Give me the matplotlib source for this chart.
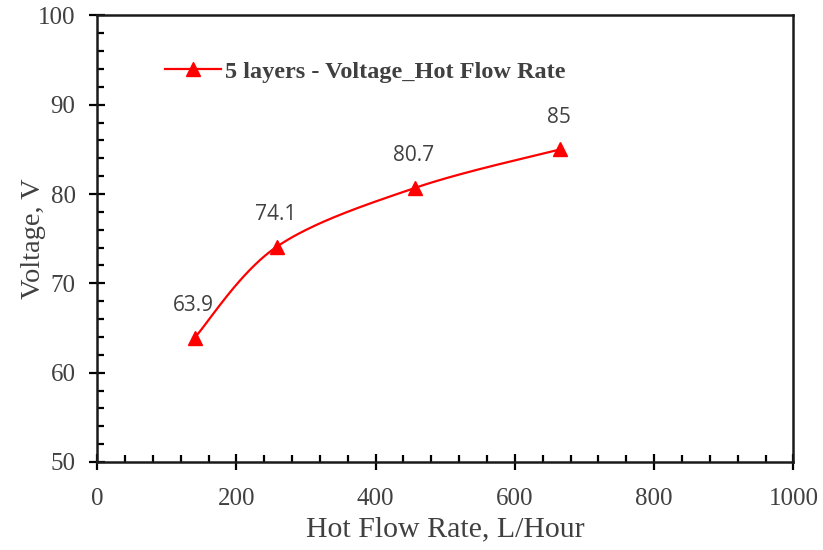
import numpy as np
import matplotlib
matplotlib.use("Agg")
import matplotlib.pyplot as plt
from matplotlib.ticker import MultipleLocator

# Hot flow rate (L/Hour) vs output voltage (V), 5-layer stack
flow_rate = [140, 258, 457, 665]
voltage = [63.9, 74.1, 80.7, 85.0]
series_name = "5 layers - Voltage_Hot Flow Rate"


def smooth_curve(x, y, n=60, tension=1 / 6):
    """Catmull-Rom style smoothing through the points, like a spreadsheet 'smoothed line'."""
    x = np.asarray(x, float)
    y = np.asarray(y, float)
    px = np.concatenate([[x[0]], x, [x[-1]]])
    py = np.concatenate([[y[0]], y, [y[-1]]])
    xs, ys = [], []
    t = np.linspace(0, 1, n)
    for i in range(1, len(px) - 2):
        p0 = np.array([px[i], py[i]])
        p3 = np.array([px[i + 1], py[i + 1]])
        p1 = p0 + tension * (np.array([px[i + 1], py[i + 1]]) - np.array([px[i - 1], py[i - 1]]))
        p2 = p3 - tension * (np.array([px[i + 2], py[i + 2]]) - np.array([px[i], py[i]]))
        b = ((1 - t) ** 3)[:, None] * p0 + (3 * (1 - t) ** 2 * t)[:, None] * p1 \
            + (3 * (1 - t) * t ** 2)[:, None] * p2 + (t ** 3)[:, None] * p3
        xs.append(b[:, 0])
        ys.append(b[:, 1])
    return np.concatenate(xs), np.concatenate(ys)


fig = plt.figure(figsize=(8.23, 5.5), dpi=100)
ax = fig.add_axes([0.118, 0.16, 0.846, 0.812])

red = "#FF0000"
grey = "#404040"
sx, sy = smooth_curve(flow_rate, voltage)
ax.plot(sx, sy, color=red, lw=1.6, zorder=3)
ax.plot(flow_rate, voltage, ls="none", marker="^", ms=10.5, color=red, zorder=4)
# legend proxy: line + marker
ax.plot([], [], color=red, lw=1.6, marker="^", ms=10.5, label=series_name)

for xv, yv in zip(flow_rate, voltage):
    ax.annotate(f"{yv:g}", (xv, yv), xytext=(-1, 23), textcoords="offset points",
                ha="center", va="center", fontsize=15, color=grey,
                family="Open Sans")

ax.set_xlim(0, 1000)
ax.set_ylim(50, 100)
ax.xaxis.set_major_locator(MultipleLocator(200))
ax.xaxis.set_minor_locator(MultipleLocator(40))
ax.yaxis.set_major_locator(MultipleLocator(10))
ax.yaxis.set_minor_locator(MultipleLocator(2))

for s in ax.spines.values():
    s.set_linewidth(1.8)
    s.set_color("#1a1a1a")

ax.tick_params(which="major", direction="inout", length=11, width=1.6,
               labelsize=18, labelcolor=grey)
ax.tick_params(which="minor", direction="in", length=5, width=1.6)
ax.tick_params(axis="x", which="major", pad=13)
ax.tick_params(axis="y", which="major", pad=10)
ax.tick_params(top=False, right=False, which="both")
for lab in ax.get_xticklabels() + ax.get_yticklabels():
    lab.set_family("Liberation Serif")

ax.set_xlabel("Hot Flow Rate, L/Hour", fontsize=21.5, family="Liberation Serif",
              color=grey, labelpad=5)
ax.set_ylabel("Voltage, V", fontsize=20.5, family="Liberation Serif",
              color=grey, labelpad=-6)

ax.legend(loc="center left", bbox_to_anchor=(0.097, 0.874), frameon=False,
          handlelength=2.3, handletextpad=0.2, borderaxespad=0, borderpad=0,
          prop={"family": "Liberation Serif", "weight": "bold", "size": 17.5},
          labelcolor=grey)

fig.savefig("out.png", dpi=100, facecolor="white")
